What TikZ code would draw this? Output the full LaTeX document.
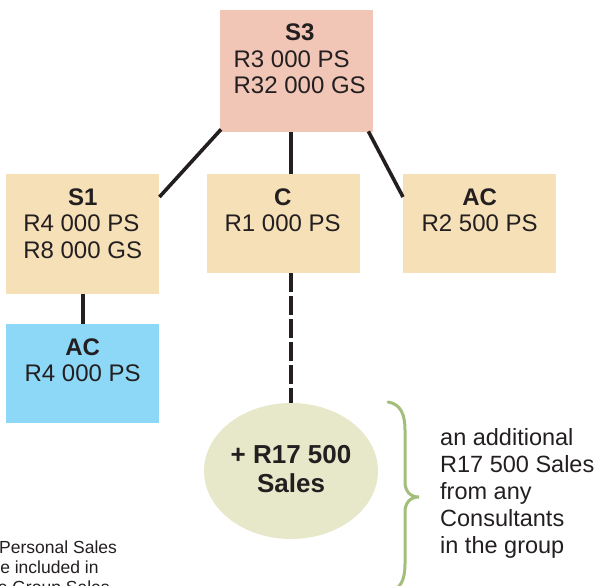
\documentclass[tikz,border=0pt]{standalone}
\usepackage{fontspec}
\setmainfont{Liberation Sans}
\usetikzlibrary{calc,shapes.geometric}
\definecolor{ink}{HTML}{231F20}
\definecolor{salmon}{HTML}{F2C6B6}
\definecolor{wheatbox}{HTML}{F6E0B8}
\definecolor{skybox}{HTML}{8ED8F7}
\definecolor{palegreen}{HTML}{E7E8C9}
\definecolor{bracegreen}{HTML}{A3BE7A}
\tikzset{
  card/.style={draw=none, inner sep=0pt, minimum width=153pt, anchor=north west},
  cardtext/.style={anchor=base, inner sep=0pt, text=ink,
    font=\fontsize{24}{26.5}\selectfont},
  link/.style={draw=ink, line width=3.6pt},
  dashlink/.style={draw=ink, line width=4pt, dash pattern=on 19pt off 4pt},
  note/.style={anchor=base west, inner sep=0pt, text=ink},
}
\newcommand{\cardlines}[2]{%
  \begin{tabular}[t]{@{}l@{}}\multicolumn{1}{@{}c@{}}{\textbf{#1}}\\#2\end{tabular}}
\newcommand{\stackleft}[1]{\begin{tabular}[t]{@{}l@{}}#1\end{tabular}}
\newcommand{\stackcentre}[1]{\begin{tabular}[t]{@{}c@{}}#1\end{tabular}}
\begin{document}
\begin{tikzpicture}[x=1pt,y=-1pt]
  \useasboundingbox (0,0) rectangle (598,586);
  \clip (0,0) rectangle (598,586);

  % boxes
  \node[card, fill=salmon, minimum height=122pt] (s3) at (220,10) {};
  \node[card, fill=wheatbox, minimum height=120pt] (s1) at (6,174) {};
  \node[card, fill=wheatbox, minimum height=99pt] (c) at (207,174) {};
  \node[card, fill=wheatbox, minimum height=99pt] (acr) at (403,174) {};
  \node[card, fill=skybox, minimum height=99pt] (acb) at (6,324) {};
  \node[ellipse, fill=palegreen, minimum width=174pt, minimum height=136pt, inner sep=0pt]
    (extra) at (291,471) {};

  % box labels
  \node[cardtext] (s3t) at ($(s3.north)+(3,31)$) {\cardlines{S3}{R3 000 PS\\R32 000 GS}};
  \node[cardtext] (s1t) at ($(s1.north)+(0,31)$) {\cardlines{S1}{R4 000 PS\\R8 000 GS}};
  \node[cardtext] (ct) at ($(c.north)+(-1,31)$) {\cardlines{C}{R1 000 PS}};
  \node[cardtext] (acrt) at ($(acr.north)+(0,31)$) {\cardlines{AC}{R2 500 PS}};
  \node[cardtext] (acbt) at ($(acb.north)+(0,31)$) {\cardlines{AC}{R4 000 PS}};
  \node[anchor=base, inner sep=0pt, text=ink,
        font=\bfseries\fontsize{26}{29}\selectfont] (extrat) at (291,463)
        {\stackcentre{+ R17 500\\Sales}};

  % connectors
  \draw[link] ($(s3.south west)+(1,-3)$) -- ($(s1.north east)+(0,23)$);
  \draw[link] (extra.center |- s3.south) -- (extra.center |- c.north);
  \draw[link] ($(s3.south east)+(-5,-1)$) -- ($(acr.north west)+(0,23)$);
  \draw[link] (s1.south) -- (acb.north);
  \draw[dashlink] (extra.center |- c.south) -- (extra.north);

  % brace
  \draw[bracegreen, line width=3pt, line cap=round]
    (388,402) .. controls (401,404) and (405,415) .. (405,430)
    -- (405,482) .. controls (405,491) and (410,497) .. (419,497)
    .. controls (410,497) and (405,503) .. (405,512)
    -- (405,564) .. controls (405,579) and (401,590) .. (388,592);

  % side notes
  \node[note, font=\fontsize{23.5}{27}\selectfont] (side) at (440,445)
    {\stackleft{an additional\\R17 500 Sales\\from any\\Consultants\\in the group}};
  \node[note, font=\fontsize{17.5}{20}\selectfont] (fn1) at (-1,553) {Personal Sales};
  \node[note, font=\fontsize{17.5}{20}\selectfont] (fn2) at (-15.5,573) {are included in};
  \node[note, font=\fontsize{17.5}{20}\selectfont] (fn3) at (-17,593) {the Group Sales};
\end{tikzpicture}
\end{document}
